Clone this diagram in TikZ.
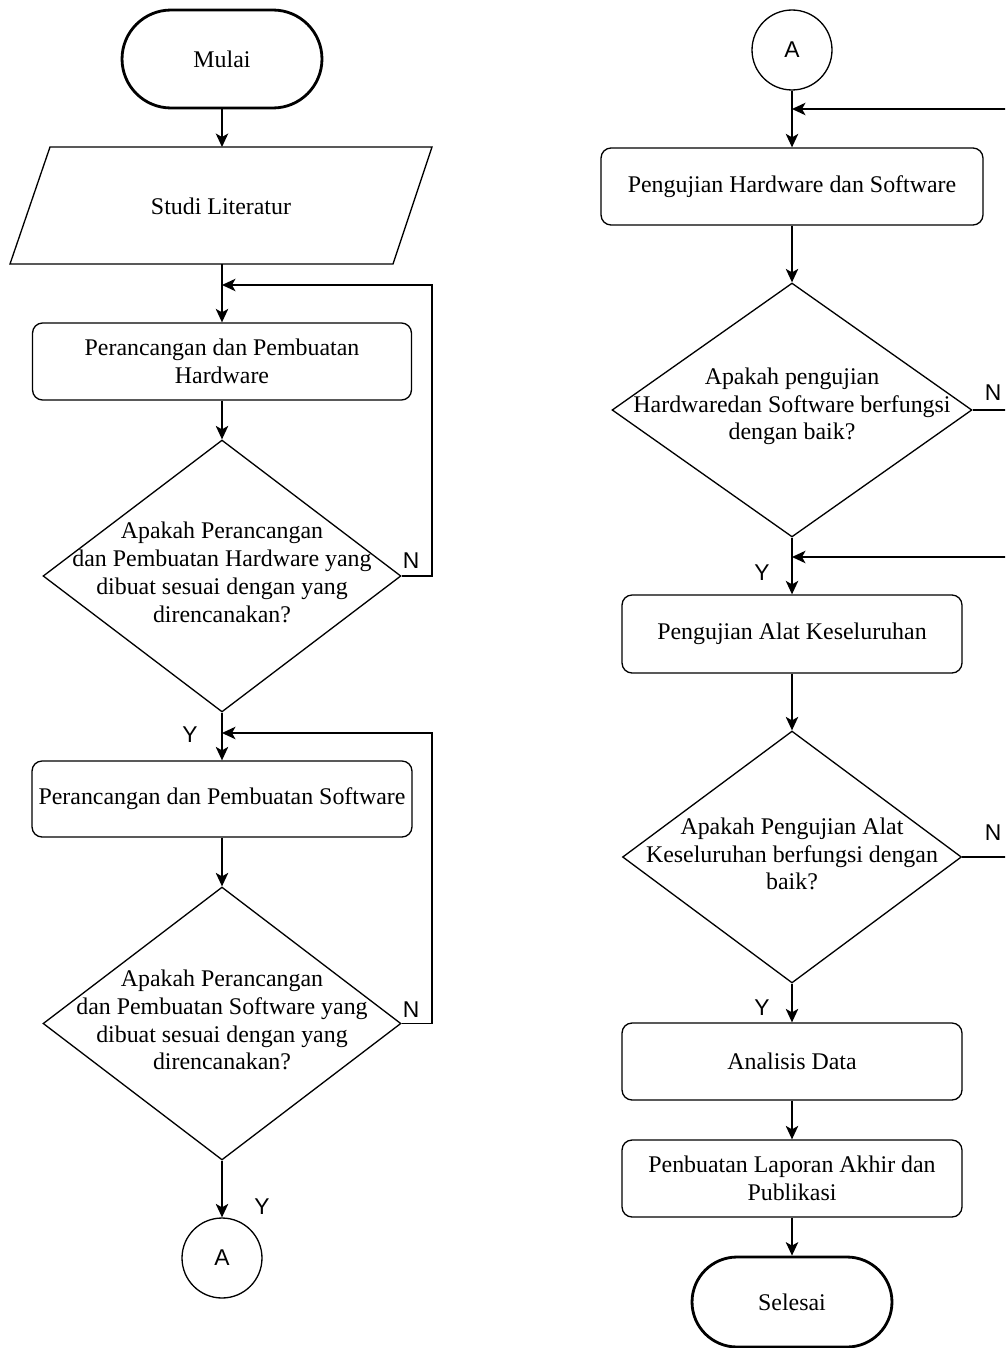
\documentclass[tikz,border=0pt]{standalone}
\usepackage{fontspec}
\setmainfont{Liberation Serif}
\setsansfont{Liberation Sans}
\usetikzlibrary{arrows.meta,shapes.geometric}
\begin{document}
\begin{tikzpicture}[x=0.02cm,y=-0.02cm,
  every node/.style={font=\fontsize{13.6pt}{15.8pt}\selectfont},
  term/.style={draw, line width=1.6pt, rectangle, minimum width=4cm, minimum height=1.96cm, rounded corners=0.98cm, align=center, inner sep=0pt},
  procbox/.style={draw, line width=0.75pt, rectangle, rounded corners=0.2cm, align=center, inner sep=2pt},
  dec/.style={draw, diamond, line width=0.75pt, inner sep=0pt},
  dtext/.style={align=center, inner sep=0pt},
  conn/.style={draw, circle, line width=0.75pt, minimum size=1.6cm, inner sep=0pt, font=\sffamily\fontsize{13pt}{15pt}\selectfont},
  lbl/.style={inner sep=0pt, font=\sffamily\fontsize{13pt}{15pt}\selectfont},
  arr/.style={-{Stealth[length=0.27cm,width=0.25cm,inset=0.07cm]}, line width=0.8pt},
  plain/.style={line width=0.75pt}]
\useasboundingbox (0,0) rectangle (1005,1348);
\fill[white] (0,0) rectangle (1005,1348);
\clip (0,0) rectangle (1005,1348);

% ---------- left column ----------
\node[term] (start) at (222,59) {Mulai};
\coordinate (p1) at (50,147);
\coordinate (p2) at (432,147);
\coordinate (p3) at (393,264);
\coordinate (p4) at (10,264);
\draw[plain] (p1) -- (p2) -- (p3) -- (p4) -- cycle;
\node (studi) at (221,206) {Studi Literatur};
\coordinate (studitop) at (222,147);
\coordinate (studibot) at (222,264);

\node[procbox, minimum width=7.58cm, minimum height=1.54cm] (b1) at (222,361.5) {Perancangan dan Pembuatan\\Hardware};
\node[dec, minimum width=7.16cm, minimum height=5.44cm] (d1) at (222,576) {};
\node[dtext, yshift=0.07cm] (t1) at (d1) {Apakah Perancangan\\dan Pembuatan Hardware yang\\dibuat sesuai dengan yang\\direncanakan?};
\node[procbox, minimum width=7.6cm, minimum height=1.52cm] (b2) at (222,799) {Perancangan dan Pembuatan Software};
\node[dec, minimum width=7.16cm, minimum height=5.46cm] (d2) at (222,1023.5) {};
\node[dtext, yshift=0.07cm] (t2) at (d2) {Apakah Perancangan\\dan Pembuatan Software yang\\dibuat sesuai dengan yang\\direncanakan?};
\node[conn] (aL) at (222,1258) {A};

\coordinate (j1) at (222,285);
\coordinate (j2) at (222,733);
\coordinate (r1) at (432,0);

\draw[arr] (start) -- (studitop);
\draw[arr] (studibot) -- (b1);
\draw[arr] (b1) -- (d1);
\draw[arr] (d1) -- (b2);
\draw[arr] (b2) -- (d2);
\draw[arr] (d2) -- (aL);
\draw[arr] (d1.east) -- (d1.east -| r1) |- (j1);
\draw[arr] (d2.east) -- (d2.east -| r1) |- (j2);

\node[lbl] (n1) at (411,561) {N};
\node[lbl] (y1) at (190,735) {Y};
\node[lbl] (n2) at (411,1010) {N};
\node[lbl] (y2) at (262,1207) {Y};

% ---------- right column ----------
\node[conn] (aR) at (792,50) {A};
\node[procbox, minimum width=7.64cm, minimum height=1.54cm] (b3) at (792,186.5) {Pengujian Hardware dan Software};
\node[dec, minimum width=7.2cm, minimum height=5.08cm] (d3) at (792,410) {};
\node[dtext, yshift=0.07cm] (t3) at (d3) {Apakah pengujian\\Hardwaredan Software berfungsi\\dengan baik?};
\node[procbox, minimum width=6.8cm, minimum height=1.56cm] (b4) at (792,634) {Pengujian Alat Keseluruhan};
\node[dec, minimum width=6.78cm, minimum height=5.04cm] (d4) at (792,857) {};
\node[dtext, yshift=0.06cm] (t4) at (d4) {Apakah Pengujian Alat\\Keseluruhan berfungsi dengan\\baik?};
\node[procbox, minimum width=6.8cm, minimum height=1.54cm] (b5) at (792,1061.5) {Analisis Data};
\node[procbox, minimum width=6.8cm, minimum height=1.54cm] (b6) at (792,1178.5) {Penbuatan Laporan Akhir dan\\Publikasi};
\node[term, minimum height=1.8cm, rounded corners=0.9cm] (end) at (792,1302) {Selesai};

\coordinate (j3) at (792,109);
\coordinate (j4) at (792,557);
\coordinate (r2) at (1020,0);

\draw[arr] (aR) -- (b3);
\draw[arr] (b3) -- (d3);
\draw[arr] (d3) -- (b4);
\draw[arr] (b4) -- (d4);
\draw[arr] (d4) -- (b5);
\draw[arr] (b5) -- (b6);
\draw[arr] (b6) -- (end);
\draw[arr] (d3.east) -- (d3.east -| r2) |- (j3);
\draw[arr] (d4.east) -- (d4.east -| r2) |- (j4);

\node[lbl] (n3) at (993,393) {N};
\node[lbl] (y3) at (762,573) {Y};
\node[lbl] (n4) at (993,833) {N};
\node[lbl] (y4) at (762,1008) {Y};
\end{tikzpicture}
\end{document}
